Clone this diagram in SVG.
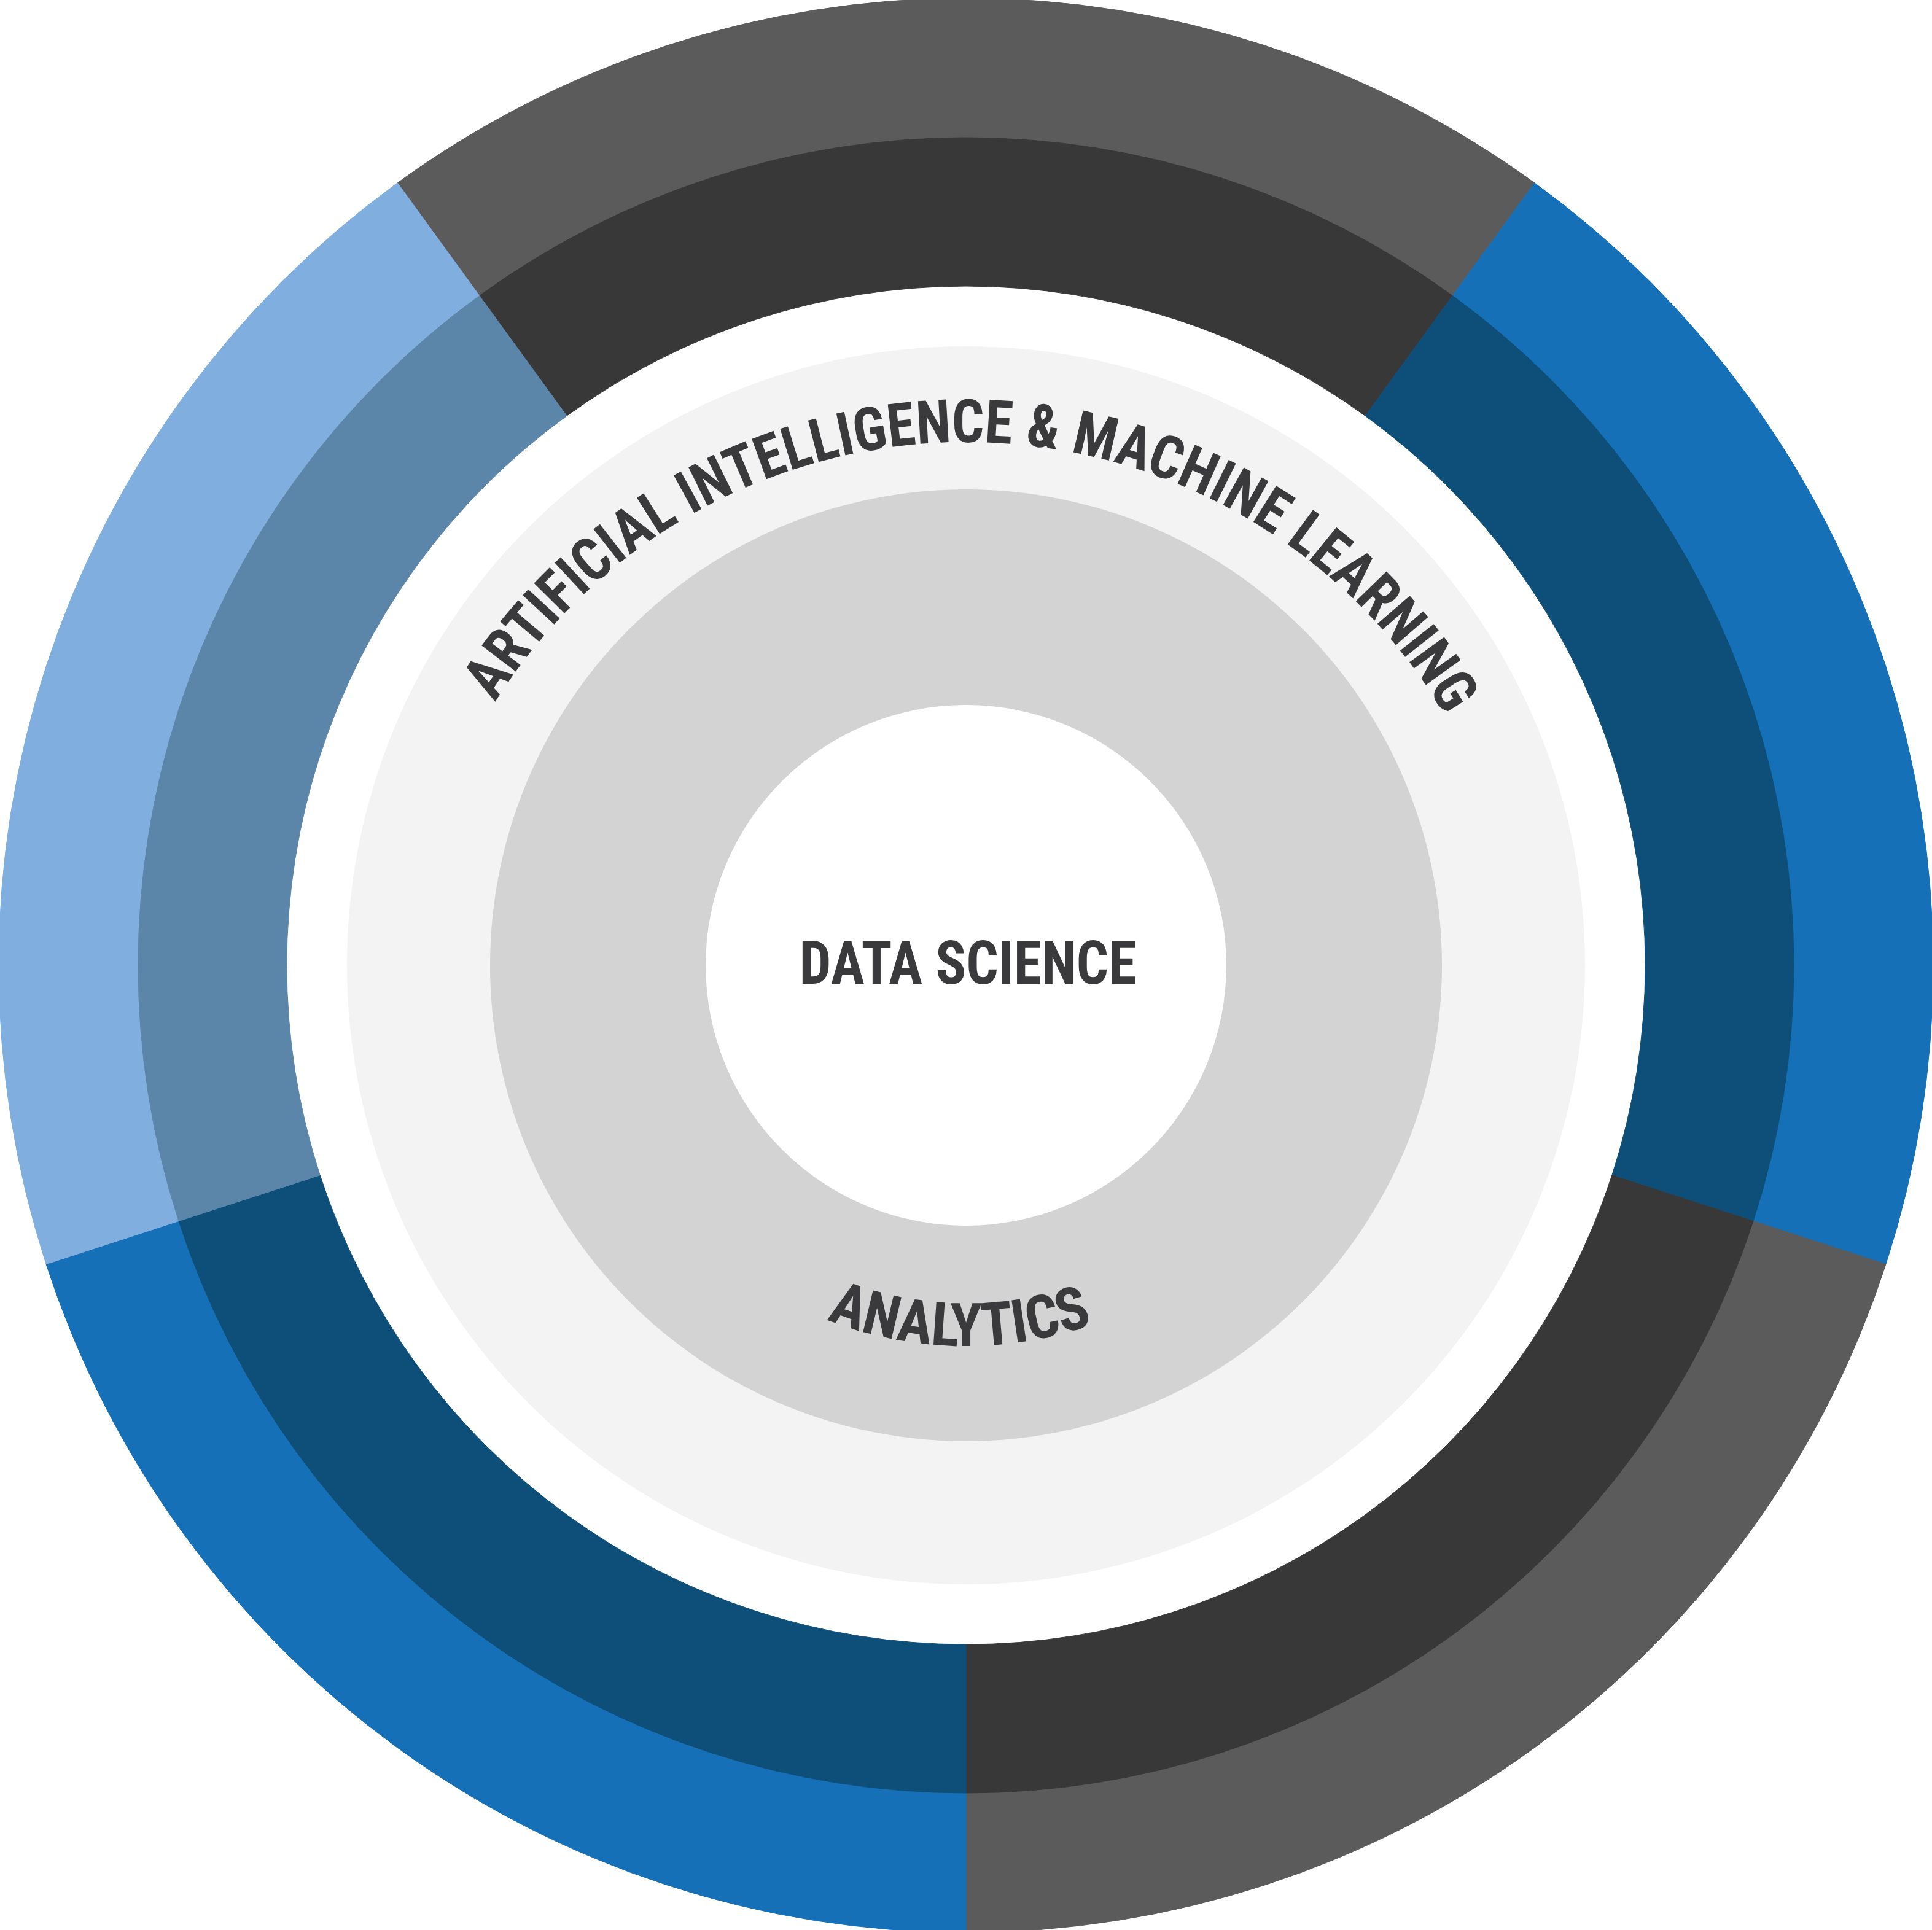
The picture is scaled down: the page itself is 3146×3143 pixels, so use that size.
<svg xmlns="http://www.w3.org/2000/svg" width="3146" height="3143" viewBox="0 0 3146 3143">
<style>
.gray-o{fill:#5a5b5a;stroke:#5a5b5a;stroke-width:1}
.gray-m{fill:#383838;stroke:#383838;stroke-width:1}
.blue-o{fill:#1570b7;stroke:#1570b7;stroke-width:1}
.blue-m{fill:#0e4f7a;stroke:#0e4f7a;stroke-width:1}
.lblue-o{fill:#80aede;stroke:#80aede;stroke-width:1}
.lblue-m{fill:#5b85a9;stroke:#5b85a9;stroke-width:1}
.lbl{font-family:"Liberation Sans Narrow","Roboto Condensed","DejaVu Sans Condensed","Liberation Sans",sans-serif;font-weight:700;fill:#3a3a3c;font-size:98px}
</style>
<defs>
<path id="arc-top" d="M667,1626 A906,906 0 0 1 2479,1626"/>
<path id="arc-bottom" d="M953,1572 A620,620 0 0 0 2193,1572"/>
</defs>
<rect width="3146" height="3143" fill="#ffffff"/>
<g id="segment-top">
<path class="gray-o" d="M647.24,297.80 A1575,1575 0 0 1 2498.76,297.80 L2365.33,481.44 A1348,1348 0 0 0 780.67,481.44 Z"/>
<path class="gray-m" d="M780.67,481.44 A1348,1348 0 0 1 2365.33,481.44 L2223.09,677.23 A1106,1106 0 0 0 922.91,677.23 Z"/>
</g>
<g id="segment-right">
<path class="blue-o" d="M2498.76,297.80 A1575,1575 0 0 1 3070.91,2058.70 L2855.03,1988.55 A1348,1348 0 0 0 2365.33,481.44 Z"/>
<path class="blue-m" d="M2365.33,481.44 A1348,1348 0 0 1 2855.03,1988.55 L2624.87,1913.77 A1106,1106 0 0 0 2223.09,677.23 Z"/>
</g>
<g id="segment-bottom-right">
<path class="gray-o" d="M3070.91,2058.70 A1575,1575 0 0 1 1573,3147 L1573,2920 A1348,1348 0 0 0 2855.03,1988.55 Z"/>
<path class="gray-m" d="M2855.03,1988.55 A1348,1348 0 0 1 1573,2920 L1573,2678 A1106,1106 0 0 0 2624.87,1913.77 Z"/>
</g>
<g id="segment-bottom-left">
<path class="blue-o" d="M1573,3147 A1575,1575 0 0 1 75.09,2058.70 L290.97,1988.55 A1348,1348 0 0 0 1573,2920 Z"/>
<path class="blue-m" d="M1573,2920 A1348,1348 0 0 1 290.97,1988.55 L521.13,1913.77 A1106,1106 0 0 0 1573,2678 Z"/>
</g>
<g id="segment-left">
<path class="lblue-o" d="M75.09,2058.70 A1575,1575 0 0 1 647.24,297.80 L780.67,481.44 A1348,1348 0 0 0 290.97,1988.55 Z"/>
<path class="lblue-m" d="M290.97,1988.55 A1348,1348 0 0 1 780.67,481.44 L922.91,677.23 A1106,1106 0 0 0 521.13,1913.77 Z"/>
</g>
<g id="ai-ml">
<circle cx="1573" cy="1572" r="1008" fill="#f3f3f3"/>
<text class="lbl"><textPath href="#arc-top" startOffset="1436" text-anchor="middle" textLength="1855" lengthAdjust="spacingAndGlyphs">ARTIFICIAL INTELLIGENCE &amp; MACHINE LEARNING</textPath></text>
</g>
<g id="analytics">
<circle cx="1573" cy="1572" r="775" fill="#d3d3d3"/>
<text class="lbl"><textPath href="#arc-bottom" startOffset="963" text-anchor="middle" textLength="443" lengthAdjust="spacingAndGlyphs">ANALYTICS</textPath></text>
</g>
<g id="data-science">
<circle cx="1573" cy="1572" r="424" fill="#ffffff"/>
<text class="lbl" x="1576" y="1602" text-anchor="middle" textLength="549" lengthAdjust="spacingAndGlyphs">DATA SCIENCE</text>
</g>
</svg>
